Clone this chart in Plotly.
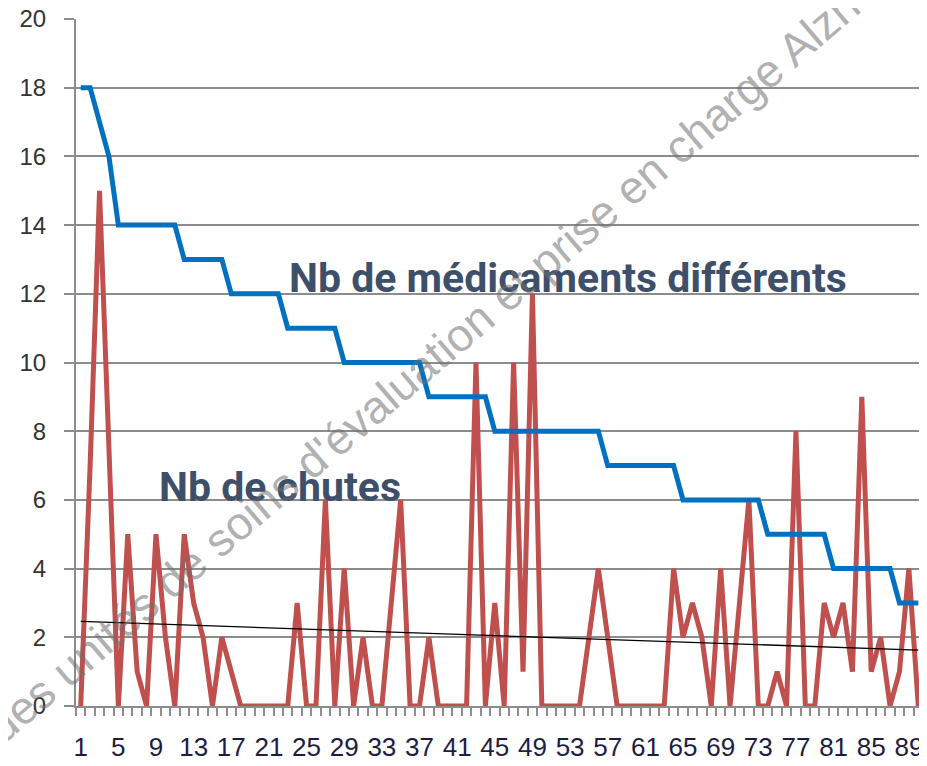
import numpy as np
import plotly.graph_objects as go

# patients (category axis), sorted by number of different drugs
patients = list(range(1, 91))

nb_medicaments = [
    18, 18, 17, 16, 14, 14, 14, 14, 14, 14,
    14, 13, 13, 13, 13, 13, 12, 12, 12, 12,
    12, 12, 11, 11, 11, 11, 11, 11, 10, 10,
    10, 10, 10, 10, 10, 10, 10, 9, 9, 9,
    9, 9, 9, 9, 8, 8, 8, 8, 8, 8,
    8, 8, 8, 8, 8, 8, 7, 7, 7, 7,
    7, 7, 7, 7, 6, 6, 6, 6, 6, 6,
    6, 6, 6, 5, 5, 5, 5, 5, 5, 5,
    4, 4, 4, 4, 4, 4, 4, 3, 3, 3,
]

nb_chutes = [
    0, 7, 15, 7, 0, 5, 1, 0, 5, 2,
    0, 5, 3, 2, 0, 2, 1, 0, 0, 0,
    0, 0, 0, 3, 0, 0, 6, 0, 4, 0,
    2, 0, 0, 3, 6, 0, 0, 2, 0, 0,
    0, 0, 10, 0, 3, 0, 10, 1, 12, 0,
    0, 0, 0, 0, 2, 4, 2, 0, 0, 0,
    0, 0, 0, 4, 2, 3, 2, 0, 4, 0,
    3, 6, 0, 0, 1, 0, 8, 0, 0, 3,
    2, 3, 1, 9, 1, 2, 0, 1, 4, 0,
]

x_tick_vals = patients[::4]
x_tick_text = [str(v) for v in x_tick_vals]

# linear trend of falls (Excel-style trendline)
slope, intercept = np.polyfit(patients, nb_chutes, 1)
trend = [slope * p + intercept for p in patients]

grid = "#8c8c8c"

fig = go.Figure()
fig.add_trace(go.Scatter(
    x=patients, y=nb_chutes, mode="lines",
    line=dict(color="#c0504d", width=5), name="Nb de chutes"
))
fig.add_trace(go.Scatter(
    x=patients, y=nb_medicaments, mode="lines",
    line=dict(color="#0070c0", width=5), name="Nb de médicaments différents"
))
fig.add_trace(go.Scatter(
    x=patients, y=trend, mode="lines",
    line=dict(color="black", width=1.3), name="Tendance"
))

# page body adds an 8px offset, so the figure is 8px smaller than the window
fig.update_layout(
    width=919, height=758,
    margin=dict(l=68, r=4, t=11, b=60),
    paper_bgcolor="white", plot_bgcolor="white",
    showlegend=False,
)

fig.update_xaxes(
    range=[0.5, 90.5], automargin=False,
    tickmode="array", tickvals=x_tick_vals, ticktext=x_tick_text,
    ticks="", showgrid=False,
    showline=True, linecolor=grid, linewidth=2,
    tickfont=dict(family="Liberation Sans, Arial", size=26, color="#1c1c44"),
    ticklabelstandoff=17, ticklabeloverflow="allow",
    minor=dict(ticks="outside", tick0=0.5, dtick=1, ticklen=8,
               tickwidth=1.5, tickcolor=grid, showgrid=False),
    zeroline=False,
)
fig.update_yaxes(
    range=[0, 20], dtick=2, automargin=False,
    showgrid=True, gridcolor=grid, gridwidth=2,
    showline=True, linecolor=grid, linewidth=2,
    ticks="outside", ticklen=10, tickwidth=2, tickcolor=grid,
    tickfont=dict(family="Liberation Sans, Arial", size=24, color="#333333"),
    ticklabelstandoff=13, ticklabeloverflow="allow",
    zeroline=False,
)

label_font = dict(family="Roboto, Arial", size=41, color="#3e4f6a")
fig.add_annotation(x=22.9, y=12.45, xref="x", yref="y",
                   text="<b>Nb de médicaments différents</b>",
                   showarrow=False, xanchor="left", yanchor="middle",
                   font=label_font)
fig.add_annotation(x=9.1, y=6.38, xref="x", yref="y",
                   text="<b>Nb de chutes</b>",
                   showarrow=False, xanchor="left", yanchor="middle",
                   font=label_font)

# diagonal watermark
fig.add_annotation(x=0.46, y=0.549, xref="paper", yref="paper",
                   text="des unités de soins d'évaluation et prise en charge Alzheimer",
                   showarrow=False, textangle=-40.5,
                   font=dict(family="Liberation Sans, Arial", size=46,
                             color="rgba(110,110,110,0.55)"))

fig.write_html("out.html")
